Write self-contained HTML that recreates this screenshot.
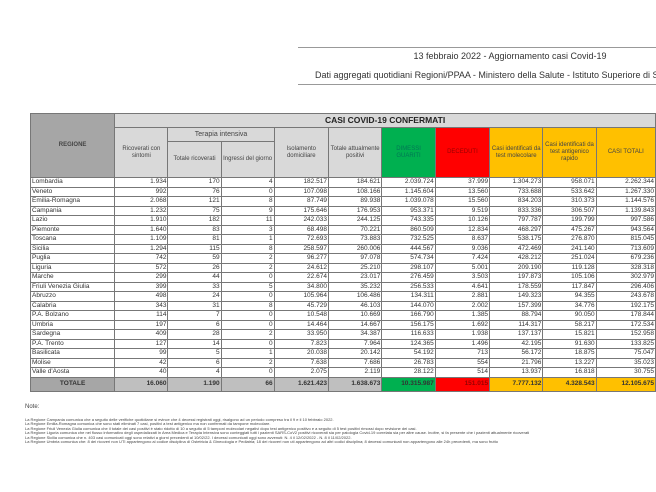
<!DOCTYPE html>
<html><head><meta charset="utf-8"><style>
body{margin:0;width:656px;height:492px;overflow:hidden;background:#fff;font-family:"Liberation Sans",sans-serif;position:relative}
.t1{position:absolute;left:300px;top:51px;width:420px;text-align:center;font-size:9px;color:#333}
.t2{position:absolute;left:315px;top:70px;font-size:9px;color:#333;white-space:nowrap}
.ln{position:absolute;left:298px;width:360px;height:1px;background:#999}
table{position:absolute;left:30px;top:113px;border-collapse:collapse;table-layout:fixed;font-size:6.5px;color:#333}
td{border:1px solid #777;padding:0 1px;overflow:hidden;white-space:nowrap;line-height:8px}
tr.d td{height:8.5px;text-align:right}
tr.d td:first-child{text-align:left}
.h{background:#d9d9d9;text-align:center;white-space:normal;line-height:7px;font-size:6px;color:#444}
.g{background:#00b050}.r{background:#ff0000}.o{background:#ffc000}
tr.tot td{height:13px;background:#bfbfbf;font-weight:bold;text-align:right}
.notes{position:absolute;left:25px;top:418px;font-size:4px;line-height:4.4px;color:#444;white-space:nowrap}
</style></head><body>
<div class="ln" style="top:47px"></div>
<div class="t1">13 febbraio 2022 - Aggiornamento casi Covid-19</div>
<div class="t2">Dati aggregati quotidiani Regioni/PPAA - Ministero della Salute - Istituto Superiore di Sanità</div>
<div class="ln" style="top:84px"></div>
<table>
<colgroup><col style="width:85px"><col style="width:54px"><col style="width:54px"><col style="width:54px"><col style="width:55px"><col style="width:54px"><col style="width:54px"><col style="width:55px"><col style="width:54px"><col style="width:54px"><col style="width:60px"></colgroup>
<tr><td rowspan="3" class="h" style="background:#a6a6a6;font-weight:bold">REGIONE</td><td colspan="10" class="h" style="height:13px;font-size:8.5px;font-weight:bold;color:#222">CASI COVID-19 CONFERMATI</td></tr>
<tr><td rowspan="2" class="h">Ricoverati con sintomi</td><td colspan="2" class="h" style="height:13px;font-size:7px">Terapia intensiva</td><td rowspan="2" class="h">Isolamento domiciliare</td><td rowspan="2" class="h">Totale attualmente positivi</td><td rowspan="2" class="h g" style="color:#075">DIMESSI GUARITI</td><td rowspan="2" class="h r" style="color:#900">DECEDUTI</td><td rowspan="2" class="h o">Casi identificati da test molecolare</td><td rowspan="2" class="h o">Casi identificati da test antigenico rapido</td><td rowspan="2" class="h o">CASI TOTALI</td></tr>
<tr><td class="h" style="height:35px">Totale ricoverati</td><td class="h">Ingressi del giorno</td></tr>
<tr class="d"><td>Lombardia</td><td>1.934</td><td>170</td><td>4</td><td>182.517</td><td>184.621</td><td>2.039.724</td><td>37.999</td><td>1.304.273</td><td>958.071</td><td>2.262.344</td></tr>
<tr class="d"><td>Veneto</td><td>992</td><td>76</td><td>0</td><td>107.098</td><td>108.166</td><td>1.145.604</td><td>13.560</td><td>733.688</td><td>533.642</td><td>1.267.330</td></tr>
<tr class="d"><td>Emilia-Romagna</td><td>2.068</td><td>121</td><td>8</td><td>87.749</td><td>89.938</td><td>1.039.078</td><td>15.560</td><td>834.203</td><td>310.373</td><td>1.144.576</td></tr>
<tr class="d"><td>Campania</td><td>1.232</td><td>75</td><td>9</td><td>175.646</td><td>176.953</td><td>953.371</td><td>9.519</td><td>833.336</td><td>306.507</td><td>1.139.843</td></tr>
<tr class="d"><td>Lazio</td><td>1.910</td><td>182</td><td>11</td><td>242.033</td><td>244.125</td><td>743.335</td><td>10.126</td><td>797.787</td><td>199.799</td><td>997.586</td></tr>
<tr class="d"><td>Piemonte</td><td>1.640</td><td>83</td><td>3</td><td>68.498</td><td>70.221</td><td>860.509</td><td>12.834</td><td>468.297</td><td>475.267</td><td>943.564</td></tr>
<tr class="d"><td>Toscana</td><td>1.109</td><td>81</td><td>1</td><td>72.693</td><td>73.883</td><td>732.525</td><td>8.637</td><td>538.175</td><td>276.870</td><td>815.045</td></tr>
<tr class="d"><td>Sicilia</td><td>1.294</td><td>115</td><td>8</td><td>258.597</td><td>260.006</td><td>444.567</td><td>9.036</td><td>472.469</td><td>241.140</td><td>713.609</td></tr>
<tr class="d"><td>Puglia</td><td>742</td><td>59</td><td>2</td><td>96.277</td><td>97.078</td><td>574.734</td><td>7.424</td><td>428.212</td><td>251.024</td><td>679.236</td></tr>
<tr class="d"><td>Liguria</td><td>572</td><td>26</td><td>2</td><td>24.612</td><td>25.210</td><td>298.107</td><td>5.001</td><td>209.190</td><td>119.128</td><td>328.318</td></tr>
<tr class="d"><td>Marche</td><td>299</td><td>44</td><td>0</td><td>22.674</td><td>23.017</td><td>276.459</td><td>3.503</td><td>197.873</td><td>105.106</td><td>302.979</td></tr>
<tr class="d"><td>Friuli Venezia Giulia</td><td>399</td><td>33</td><td>5</td><td>34.800</td><td>35.232</td><td>256.533</td><td>4.641</td><td>178.559</td><td>117.847</td><td>296.406</td></tr>
<tr class="d"><td>Abruzzo</td><td>498</td><td>24</td><td>0</td><td>105.964</td><td>106.486</td><td>134.311</td><td>2.881</td><td>149.323</td><td>94.355</td><td>243.678</td></tr>
<tr class="d"><td>Calabria</td><td>343</td><td>31</td><td>8</td><td>45.729</td><td>46.103</td><td>144.070</td><td>2.002</td><td>157.399</td><td>34.776</td><td>192.175</td></tr>
<tr class="d"><td>P.A. Bolzano</td><td>114</td><td>7</td><td>0</td><td>10.548</td><td>10.669</td><td>166.790</td><td>1.385</td><td>88.794</td><td>90.050</td><td>178.844</td></tr>
<tr class="d"><td>Umbria</td><td>197</td><td>6</td><td>0</td><td>14.464</td><td>14.667</td><td>156.175</td><td>1.692</td><td>114.317</td><td>58.217</td><td>172.534</td></tr>
<tr class="d"><td>Sardegna</td><td>409</td><td>28</td><td>2</td><td>33.950</td><td>34.387</td><td>116.633</td><td>1.938</td><td>137.137</td><td>15.821</td><td>152.958</td></tr>
<tr class="d"><td>P.A. Trento</td><td>127</td><td>14</td><td>0</td><td>7.823</td><td>7.964</td><td>124.365</td><td>1.496</td><td>42.195</td><td>91.630</td><td>133.825</td></tr>
<tr class="d"><td>Basilicata</td><td>99</td><td>5</td><td>1</td><td>20.038</td><td>20.142</td><td>54.192</td><td>713</td><td>56.172</td><td>18.875</td><td>75.047</td></tr>
<tr class="d"><td>Molise</td><td>42</td><td>6</td><td>2</td><td>7.638</td><td>7.686</td><td>26.783</td><td>554</td><td>21.796</td><td>13.227</td><td>35.023</td></tr>
<tr class="d"><td>Valle d'Aosta</td><td>40</td><td>4</td><td>0</td><td>2.075</td><td>2.119</td><td>28.122</td><td>514</td><td>13.937</td><td>16.818</td><td>30.755</td></tr>
<tr class="tot"><td style="background:#a6a6a6;text-align:center">TOTALE</td><td>16.060</td><td>1.190</td><td>66</td><td>1.621.423</td><td>1.638.673</td><td class="g" style="background:#00b050">10.315.987</td><td style="background:#ff0000;color:#900">151.015</td><td style="background:#ffc000">7.777.132</td><td style="background:#ffc000">4.328.543</td><td style="background:#ffc000">12.105.675</td></tr>
</table>
<div style="position:absolute;left:25px;top:404px;font-size:6px;color:#444">Note:</div>
<div class="notes">
La Regione Campania comunica che a seguito delle verifiche quotidiane si evince che 4 decessi registrati oggi, risalgono ad un periodo compreso tra il 9 e il 10 febbraio 2022.<br>
La Regione Emilia-Romagna comunica che sono stati eliminati 7 casi, positivi a test antigenico ma non confermati da tampone molecolare.<br>
La Regione Friuli Venezia Giulia comunica che il totale dei casi positivi è stato ridotto di 10 a seguito di 5 tamponi molecolari negativi dopo test antigenico positivo e a seguito di 5 test positivi rimossi dopo revisione dei casi.<br>
La Regione Liguria comunica che nel flusso informativo degli ospedalizzati in Area Medica e Terapia Intensiva sono conteggiati tutti i pazienti SARS-CoV2 positivi ricoverati sia per patologia Covid-19 correlata sia per altre cause. Inoltre, si fa presente che i pazienti attualmente ricoverati<br>
La Regione Sicilia comunica che n. 403 casi comunicati oggi sono relativi a giorni precedenti al 10/02/22. I decessi comunicati oggi sono avvenuti: N. 4 il 12/02/2022 - N. 8 il 11/02/2022.<br>
La Regione Umbria comunica che: 8 dei ricoveri non UTI appartengono al codice disciplina di Ostetricia &amp; Ginecologia e Pediatria; 18 dei ricoveri non uti appartengono ad altri codici disciplina; 8 decessi comunicati non appartengono alle 24h precedenti, ma sono frutto
</div>
</body></html>
